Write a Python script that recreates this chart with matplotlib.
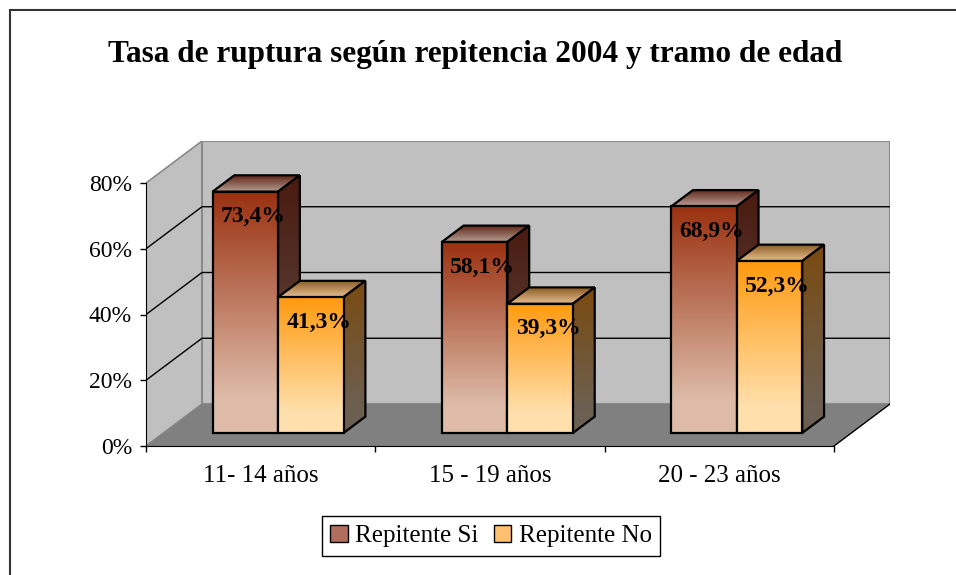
#!/usr/bin/env python3
"""Tasa de ruptura segun repitencia 2004 y tramo de edad -- Excel style 3D column chart."""

import numpy as np
import matplotlib
matplotlib.use('Agg')
import matplotlib.pyplot as plt
from matplotlib.patches import Polygon, Rectangle, Patch
from matplotlib.colors import LinearSegmentedColormap

# ---- data ----
categories = ["11- 14 años", "15 - 19 años", "20 - 23 años"]
series_names = ["Repitente Si", "Repitente No"]
repitente_si = [73.4, 58.1, 68.9]
repitente_no = [41.3, 39.3, 52.3]
y_ticks = [0, 20, 40, 60, 80]
y_tick_labels = ["0%", "20%", "40%", "60%", "80%"]
title = "Tasa de ruptura según repitencia 2004 y tramo de edad"

plt.rcParams['font.family'] = ['Liberation Serif', 'DejaVu Serif']

W, H = 956, 575
fig = plt.figure(figsize=(W / 100, H / 100), dpi=100)

# oblique projection: depth offset expressed in data units
px_cat = 229.33   # pixels per category
px_pct = 3.2875   # pixels per percent point
DX = 56 / px_cat
DY = 42 / px_pct
YMAX = 80

ax = fig.add_axes([146 / W, (H - 446) / H, 744 / W, 305 / H])
ax.set_xlim(-0.5, 2.5 + DX)
ax.set_ylim(0, YMAX + DY)
ax.patch.set_visible(False)

x0, x1 = -0.5, len(categories) - 0.5

# walls and floor
ax.add_patch(Polygon([(x0, 0), (x0, YMAX), (x0 + DX, YMAX + DY), (x0 + DX, DY)],
                     fc='#c0c0c0', ec='#8a8a8a', lw=1.2, zorder=1))
ax.add_patch(Polygon([(x0 + DX, DY), (x0 + DX, YMAX + DY), (x1 + DX, YMAX + DY), (x1 + DX, DY)],
                     fc='#c0c0c0', ec='#8a8a8a', lw=1.5, zorder=1))
ax.add_patch(Polygon([(x0, 0), (x1, 0), (x1 + DX, DY), (x0 + DX, DY)],
                     fc='#808080', ec='none', zorder=1.2))
ax.plot([x1, x1 + DX], [0, DY], color='black', lw=1, zorder=1.3)

for v in y_ticks[1:-1]:
    ax.plot([x0, x0 + DX, x1 + DX], [v, v + DY, v + DY], color='black', lw=1, zorder=1.1)


def grad_poly(verts, c_top, c_bot, z):
    verts = np.asarray(verts)
    poly = Polygon(verts, closed=True, fc='none', ec='black', lw=1.6, zorder=z + 0.05)
    ax.add_patch(poly)
    cmap = LinearSegmentedColormap.from_list('g', [(0, c_bot), (0.15, c_bot), (1, c_top)])
    grad = np.linspace(0, 1, 256).reshape(-1, 1)
    im = ax.imshow(grad, cmap=cmap, origin='lower', aspect='auto', zorder=z,
                   extent=[verts[:, 0].min(), verts[:, 0].max(), verts[:, 1].min(), verts[:, 1].max()],
                   interpolation='bilinear')
    im.set_clip_path(poly)


# colours: front (top, bottom), side (top, bottom), top face (back, front)
styles = [
    dict(front=('#9a3110', '#ddbba8'), side=('#4a1a10', '#5f4b42'), top=('#5e2416', '#a88c80')),
    dict(front=('#ff9a10', '#ffe0ad'), side=('#7a4a10', '#6c6052'), top=('#8a5a20', '#d8b080')),
]

W_BAR = 1 / 3.5
F0, F1 = 0.31, 0.70
ox, oy = F0 * DX, F0 * DY
bx, by = F1 * DX, F1 * DY

z = 3
for i, cat in enumerate(categories):
    for s, vals in enumerate([repitente_si, repitente_no]):
        v = vals[i]
        xl = i - W_BAR + s * W_BAR
        xr = xl + W_BAR
        st = styles[s]
        grad_poly([(xl + ox, v + oy), (xr + ox, v + oy), (xr + bx, v + by), (xl + bx, v + by)],
                  st['top'][0], st['top'][1], z)
        grad_poly([(xr + ox, oy), (xr + bx, by), (xr + bx, v + by), (xr + ox, v + oy)],
                  st['side'][0], st['side'][1], z + 0.2)
        grad_poly([(xl + ox, oy), (xr + ox, oy), (xr + ox, v + oy), (xl + ox, v + oy)],
                  st['front'][0], st['front'][1], z + 0.4)
        ax.annotate(f"{v:.1f}".replace('.', ',') + "%", xy=((xl + xr) / 2 + ox, v + oy),
                    xytext=(8, -25), textcoords='offset pixels', ha='center', va='center',
                    fontsize=17, fontweight='bold', zorder=20)
        z += 1

# axes
for side in ['top', 'right']:
    ax.spines[side].set_visible(False)
ax.spines['left'].set_bounds(0, YMAX)
ax.spines['bottom'].set_bounds(x0, x1)
ax.spines['left'].set_zorder(2)
ax.spines['bottom'].set_zorder(2)
ax.set_yticks(y_ticks, labels=y_tick_labels)
ax.set_xticks(np.arange(len(categories) + 1) - 0.5, labels=[])
ax.set_xticks(np.arange(len(categories)), labels=categories, minor=True)
ax.tick_params(axis='both', which='major', length=4.3, width=1, direction='out', labelsize=17, pad=5.8)
ax.tick_params(axis='x', which='minor', length=0, labelsize=18, pad=13.5)

fig.text(475 / W, 1 - 62 / H, title, ha='center', va='baseline', fontsize=22.5, fontweight='bold')

handles = [Patch(facecolor='#b26e5c', edgecolor='black', label=series_names[0]),
           Patch(facecolor='#ffc070', edgecolor='black', label=series_names[1])]
leg = fig.legend(handles=handles, loc='center', bbox_to_anchor=(491 / W, 1 - 536 / H), ncol=2,
                 fontsize=18, frameon=True, fancybox=False, edgecolor='black', framealpha=1,
                 handlelength=0.7, handleheight=0.7, handletextpad=0.3, columnspacing=0.6,
                 borderpad=0.35)
leg.get_frame().set_linewidth(1)

# outer chart frame (only left and top edges visible)
fig.add_artist(Rectangle((10 / W, -0.5), 2, 1 - 10 / H + 0.5, transform=fig.transFigure,
                         fill=False, ec='#333333', lw=1.5))

fig.savefig('out.png', dpi=100)
